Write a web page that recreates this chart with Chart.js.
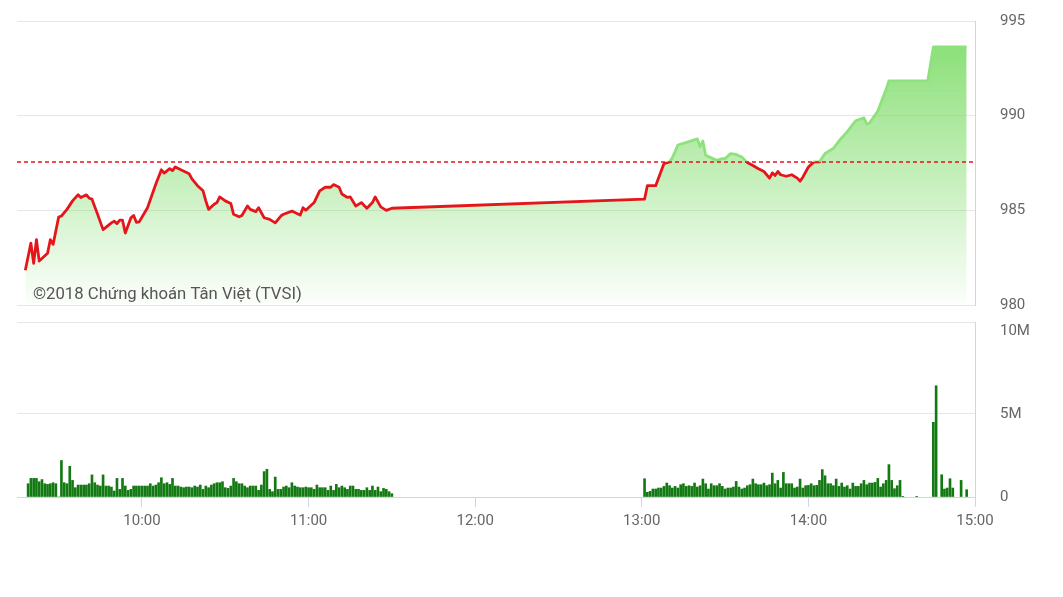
<!DOCTYPE html>
<html>
<head>
<meta charset="utf-8">
<script src="https://cdn.jsdelivr.net/npm/chart.js@4.4.0/dist/chart.umd.min.js"></script>
<style>
  html, body { margin: 0; padding: 0; background: #fff; }
  #wrap { position: relative; width: 1063px; height: 597px; }
  #priceBox { position: absolute; left: 0; top: 0; width: 1063px; height: 320px; }
  #volBox { position: absolute; left: 0; top: 300px; width: 1063px; height: 297px; }
</style>
</head>
<body>
<div id="wrap">
  <div id="priceBox"><canvas id="priceChart"></canvas></div>
  <div id="volBox"><canvas id="volChart"></canvas></div>
</div>
<script>
// index values (VN-Index intraday)
const priceTimes = [
  '9:18','9:20','9:21','9:22','9:23','9:26','9:27','9:28','9:30','9:31','9:33','9:35','9:37','9:38','9:40','9:41','9:42','9:44','9:46','9:49',
  '9:50','9:51','9:52','9:53','9:54','9:56','9:57','9:58','9:59','10:02','10:05','10:07','10:08','10:10','10:11','10:12','10:14','10:17','10:18','10:20',
  '10:22','10:23','10:24','10:26','10:27','10:28','10:30','10:32','10:33','10:35','10:36','10:38','10:39','10:41','10:42','10:44','10:46','10:48','10:50','10:51',
  '10:54','10:56','10:57','10:58','10:59','11:02','11:04','11:06','11:08','11:09','11:11','11:12','11:14','11:15','11:17','11:19','11:21','11:23','11:24','11:26',
  '11:28','11:30',
  '13:01','13:02','13:05','13:08','13:10','13:11','13:13','13:17','13:20','13:21','13:22','13:23','13:25','13:27','13:29','13:30','13:32','13:34','13:36','13:38',
  '13:40','13:42','13:44','13:46','13:47','13:48','13:49','13:50','13:52','13:54','13:56','13:57','13:58','14:00','14:02','14:04','14:06','14:09','14:11','14:14',
  '14:17','14:20','14:21','14:22','14:25','14:28','14:29','14:43','14:45','14:57'
];
const priceValues = [
  981.84,983.27,982.2,983.45,982.32,982.73,983.45,983.2,984.64,984.7,985.05,985.5,985.82,985.68,985.82,985.64,985.59,984.8,983.98,984.34,
  984.43,984.3,984.48,984.48,983.8,984.6,984.73,984.37,984.39,985.14,986.39,987.14,986.97,987.2,987.1,987.29,987.14,986.93,986.66,986.3,
  986.03,985.5,985.05,985.32,985.41,985.71,985.5,985.36,984.79,984.66,984.73,985.23,985.05,984.93,985.14,984.61,984.52,984.34,984.7,984.79,
  984.96,984.82,984.75,985.14,985.0,985.41,986.03,986.22,986.22,986.36,986.22,985.86,985.68,985.71,985.23,985.41,985.11,985.41,985.71,985.18,
  985.0,985.11,
  985.59,986.3,986.3,987.47,987.56,987.77,988.45,988.63,988.77,988.36,988.66,987.91,987.77,987.64,987.73,987.73,988.0,987.95,987.82,987.52,
  987.37,987.2,987.05,986.7,986.98,986.84,987.05,986.88,986.8,986.88,986.7,986.54,986.75,987.29,987.56,987.56,988.0,988.27,988.66,989.16,
  989.73,989.88,989.56,989.61,990.24,991.39,991.84,991.84,993.63,993.63
];
const refPrice = 987.55;

// volume, millions of shares, one bar per minute
const volMorningStart = '9:19';
const volMorning = [
  0.8,1.12,1.12,1.12,0.92,1.05,0.8,0.76,0.8,0.86,
  0.8,0,2.2,0.86,0.8,1.85,1.0,0.56,0.72,0.72,
  0.72,0.72,0.8,1.33,0.86,0.72,0.66,1.33,0.66,0.66,
  0.6,0.36,1.12,0.46,1.12,0.66,0.4,0.46,0.66,0.66,
  0.66,0.66,0.66,0.66,0.8,0.66,0.72,0.86,1.16,0.8,
  0.86,0.76,1.12,0.66,0.66,0.6,0.56,0.6,0.6,0.56,
  0.66,0.6,0.72,0.46,
  0.66,0.56,0.72,0.8,0.86,0.86,0.92,0.56,0.52,0.66,
  1.12,0.92,0.8,0.8,0.66,0.56,0.66,0.66,0.66,0.4,
  0.72,1.53,1.67,0.46,0.32,1.2,0.46,0.46,0.6,0.66,
  0.56,0.86,0.66,0.6,0.56,0.56,0.6,0.56,0.56,0.46,
  0.72,0.56,0.56,0.56,0.4,0.66,0.4,0.76,0.56,0.66,
  0.56,0.46,0.66,0.66,0.46,0.46,0.4,0.4,0.56,0.4,
  0.66,0.4,0.6,0.32,0.52,0.46,0.32,0.2
];
const volAfternoonStart = '13:01';
const volAfternoon = [
  1.1,0.28,0.34,0.48,0.48,0.54,0.54,0.64,0.84,0.68,
  0.54,0.64,0.54,0.74,0.8,0.64,0.68,0.64,0.84,0.6,
  0.68,1.08,0.8,0.48,0.8,0.68,0.68,0.8,0.64,0.48,
  0.54,0.54,0.6,0.94,0.6,0.48,0.54,0.68,0.74,1.08,
  0.8,0.74,0.74,0.84,0.68,0.74,1.44,0.8,1.0,0.54,
  1.48,0.8,0.8,0.8,0.54,0.6,1.08,0.54,0.68,0.7,
  0.8,0.68,0.7,1.0,1.65,1.28,0.8,0.8,0.68,1.08,
  0.64,0.84,0.6,0.68,0.48,0.84,0.64,0.64,0.8,1.0,
  0.74,0.84,0.84,0.88,1.12,0.6,0.8,1.0,1.95,1.0,
  0.5,0.68,1.0
];
const volLateTimes = ['14:34','14:39','14:45','14:46','14:48','14:49','14:50','14:51','14:52','14:55','14:57'];
const volLate = [0.04,0.04,4.5,6.7,1.34,0.48,0.54,1.1,0.54,1.0,0.44];

const hourTicks = ['10:00','11:00','12:00','13:00','14:00','15:00'];
const priceTicks = [980, 985, 990, 995];
const volTicks = [0, 5, 10];
const volTickLabels = ['0', '5M', '10M'];
const CREDIT = '©2018 Chứng khoán Tân Việt (TVSI)';

function toMin(s) {
  const p = s.split(':');
  return +p[0] * 60 + +p[1];
}
function fmtTime(m) {
  const h = Math.floor(m / 60), mm = m % 60;
  return h + ':' + (mm < 10 ? '0' : '') + mm;
}

const X_MIN = toMin('9:15'), X_MAX = toMin('15:00');
const VOL_MAX = 10.54;
const RED = '#e5161b';
const GREEN_LINE = '#8ee27c';

Chart.defaults.font.family = 'Roboto';
Chart.defaults.font.size = 15;
Chart.defaults.color = '#666';

const pricePoints = priceTimes.map((t, i) => ({ x: toMin(t), y: priceValues[i] }));

const volPoints = [];
volMorning.forEach((v, i) => volPoints.push({ x: toMin(volMorningStart) + i, y: v }));
volAfternoon.forEach((v, i) => volPoints.push({ x: toMin(volAfternoonStart) + i, y: v }));
volLateTimes.forEach((t, i) => volPoints.push({ x: toMin(t), y: volLate[i] }));

function lineColor(ctx) {
  const chart = ctx.chart;
  const area = chart.chartArea;
  if (!area) return RED;
  const yRef = chart.scales.y.getPixelForValue(refPrice);
  const stop = Math.min(1, Math.max(0, (yRef - area.top) / (area.bottom - area.top)));
  const g = chart.ctx.createLinearGradient(0, area.top, 0, area.bottom);
  g.addColorStop(0, GREEN_LINE);
  g.addColorStop(stop, GREEN_LINE);
  g.addColorStop(stop, RED);
  g.addColorStop(1, RED);
  return g;
}

function fillColor(ctx) {
  const chart = ctx.chart;
  const area = chart.chartArea;
  if (!area) return 'rgba(120,220,100,0.4)';
  const g = chart.ctx.createLinearGradient(0, area.top, 0, area.bottom);
  g.addColorStop(0, 'rgba(118,218,96,0.92)');
  g.addColorStop(1, 'rgba(118,218,96,0.02)');
  return g;
}

// keep the tick padding from pushing the plot area down
function rightAxisFit(s) {
  s.width = 88;
  s.paddingTop = 0;
  s.paddingBottom = 0;
}

const creditPlugin = {
  id: 'credit',
  afterDatasetsDraw(chart) {
    const c = chart.ctx;
    c.save();
    c.font = '16.7px Roboto';
    c.fillStyle = '#555';
    c.textBaseline = 'alphabetic';
    c.fillText(CREDIT, 33, 299);
    c.restore();
  }
};

new Chart(document.getElementById('priceChart'), {
  type: 'line',
  data: {
    datasets: [
      {
        data: [{ x: X_MIN, y: refPrice }, { x: X_MAX, y: refPrice }],
        borderColor: RED,
        borderWidth: 1.5,
        borderDash: [4, 3],
        pointRadius: 0,
        fill: false,
        order: 0
      },
      {
        data: pricePoints,
        borderColor: lineColor,
        backgroundColor: fillColor,
        borderWidth: 2.8,
        borderJoinStyle: 'round',
        pointRadius: 0,
        tension: 0,
        fill: 'start',
        order: 1
      }
    ]
  },
  options: {
    responsive: true,
    maintainAspectRatio: false,
    animation: false,
    layout: { padding: { left: 17, top: 21, bottom: 15, right: 0 } },
    plugins: { legend: { display: false }, tooltip: { enabled: false } },
    scales: {
      x: { type: 'linear', display: false, min: X_MIN, max: X_MAX },
      y: {
        position: 'right',
        min: 980,
        max: 995,
        afterBuildTicks: s => { s.ticks = priceTicks.map(v => ({ value: v })); },
        ticks: { padding: 25, color: '#666' },
        grid: { color: '#e6e6e6', drawTicks: false },
        border: { color: '#ccd6eb' },
        afterFit: rightAxisFit
      }
    }
  },
  plugins: [creditPlugin]
});

new Chart(document.getElementById('volChart'), {
  type: 'bar',
  data: {
    datasets: [{
      data: volPoints,
      backgroundColor: '#137a13',
      borderWidth: 0,
      barThickness: 2
    }]
  },
  options: {
    responsive: true,
    maintainAspectRatio: false,
    animation: false,
    layout: { padding: { left: 17, top: 22, bottom: 60, right: 0 } },
    plugins: { legend: { display: false }, tooltip: { enabled: false } },
    scales: {
      x: {
        type: 'linear',
        min: X_MIN,
        max: X_MAX,
        offset: false,
        afterBuildTicks: s => { s.ticks = hourTicks.map(t => ({ value: toMin(t) })); },
        ticks: { callback: v => fmtTime(v), padding: 5, maxRotation: 0, autoSkip: false, color: '#666' },
        grid: { offset: false, drawOnChartArea: false, drawTicks: true, tickLength: 10, color: '#ccd6eb' },
        border: { color: '#ccd6eb' },
        afterFit: s => { s.height = 40; }
      },
      y: {
        position: 'right',
        min: 0,
        max: VOL_MAX,
        afterBuildTicks: s => {
          s.ticks = volTicks.map(v => ({ value: v })).concat([{ value: VOL_MAX }]);
        },
        ticks: {
          padding: 25,
          color: '#666',
          callback: v => {
            const i = volTicks.indexOf(v);
            return i >= 0 ? volTickLabels[i] : '';
          }
        },
        grid: {
          drawTicks: false,
          color: ctx => (ctx.tick && ctx.tick.value === 10 ? 'rgba(0,0,0,0)' : '#e6e6e6')
        },
        border: { color: '#ccd6eb' },
        afterFit: rightAxisFit
      }
    }
  }
});
</script>
</body>
</html>
